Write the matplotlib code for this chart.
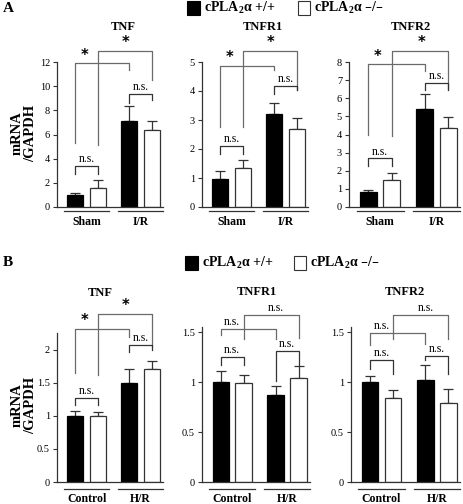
import matplotlib
matplotlib.use("Agg")
import matplotlib.pyplot as plt
import numpy as np

plt.rcParams['font.family'] = ['Liberation Serif', 'DejaVu Serif']
plt.rcParams['mathtext.default'] = 'regular'

# ---- data ----
xpos = [0, 1, 2.4, 3.4]          # Sham/Control: +/+, -/- ; I/R or H/R: +/+, -/-
groups_a = ['Sham', 'I/R']
groups_b = ['Control', 'H/R']
titles = ['TNF', 'TNFR1', 'TNFR2']

a_tnf = [1.0, 1.6, 7.1, 6.35]
a_tnf_err = [0.2, 0.65, 1.3, 0.8]
a_tnfr1 = [0.98, 1.35, 3.21, 2.68]
a_tnfr1_err = [0.26, 0.26, 0.39, 0.38]
a_tnfr2 = [0.81, 1.5, 5.4, 4.34]
a_tnfr2_err = [0.13, 0.35, 0.81, 0.6]

b_tnf = [1.0, 1.0, 1.49, 1.70]
b_tnf_err = [0.07, 0.05, 0.22, 0.13]
b_tnfr1 = [1.0, 0.99, 0.87, 1.04]
b_tnfr1_err = [0.11, 0.08, 0.09, 0.12]
b_tnfr2 = [1.0, 0.84, 1.02, 0.79]
b_tnfr2_err = [0.06, 0.08, 0.15, 0.14]

a_ylim = [12, 5, 8]
a_yticks = [range(0, 13, 2), range(0, 6), range(0, 9)]
b_ylim = [2.25, 1.55, 1.55]
b_yticks = [[0, 0.5, 1, 1.5, 2], [0, 0.5, 1, 1.5], [0, 0.5, 1, 1.5]]
b_yticklabels = [['0', '0.5', '1', '1.5', '2'], ['0', '0.5', '1', '1.5'], ['0', '0.5', '1', '1.5']]

# significance labels per bracket: (i, j, text)
a_sig = [(0, 2, '*'), (1, 3, '*'), (0, 1, 'n.s.'), (2, 3, 'n.s.')]
b_sig = [[(0, 2, '*'), (1, 3, '*'), (0, 1, 'n.s.'), (2, 3, 'n.s.')],
         [(0, 2, 'n.s.'), (1, 3, 'n.s.'), (0, 1, 'n.s.'), (2, 3, 'n.s.')],
         [(0, 2, 'n.s.'), (1, 3, 'n.s.'), (0, 1, 'n.s.'), (2, 3, 'n.s.')]]

# bracket layout in axes fraction: (top, left leg bottom, right leg bottom, label x)
a_layout = [
    [(0.99, 0.44, 0.945, 0.4), (1.076, 0.43, 0.876, 2.25), (0.283, 0.23, 0.23, 0.5), (0.78, 0.72, 0.74, 2.9)],
    [(0.975, 0.55, 0.945, 0.4), (1.076, 0.55, 0.81, 2.25), (0.42, 0.365, 0.365, 0.5), (0.834, 0.78, 0.81, 2.9)],
    [(0.985, 0.5, 0.94, 0.4), (1.076, 0.49, 0.815, 2.25), (0.335, 0.28, 0.28, 0.5), (0.857, 0.81, 0.81, 2.9)],
]
b_layout = [
    [(1.03, 0.73, 0.97, 0.4), (1.13, 0.72, 0.91, 2.25), (0.566, 0.517, 0.517, 0.5), (0.92, 0.875, 0.886, 2.9)],
    [(0.99, 0.95, 0.92, 0.5), (1.08, 0.92, 0.93, 2.4), (0.806, 0.755, 0.755, 0.5), (0.847, 0.65, 0.755, 2.9)],
    [(0.96, 0.885, 0.89, 0.5), (1.08, 0.92, 0.92, 2.4), (0.787, 0.73, 0.70, 0.5), (0.813, 0.787, 0.70, 2.9)],
]

W, H = 464, 504
fig = plt.figure(figsize=(W / 100, H / 100), dpi=100)


def px_axes(l, t, r, b):
    return fig.add_axes([l / W, 1 - b / H, (r - l) / W, (b - t) / H])


def draw_panel(ax, vals, errs, ylim, yticks, yticklabels, groups, sigs, layout, underline_px, label_px):
    colors = ['black', 'white', 'black', 'white']
    ax.bar(xpos, vals, width=0.72, color=colors, edgecolor=['black', '#333333', 'black', '#333333'],
           linewidth=0.9, zorder=2)
    ax.errorbar(xpos, vals, yerr=[np.zeros(4), errs], fmt='none', ecolor='#333333',
                elinewidth=0.9, capsize=3.5, capthick=0.9, zorder=1)
    ax.set_xlim(-0.82, 3.9)
    ax.set_ylim(0, ylim)
    ax.set_yticks(list(yticks))
    if yticklabels is not None:
        ax.set_yticklabels(yticklabels)
    ax.tick_params(axis='y', direction='out', length=3, width=0.8, labelsize=7.5, pad=2, color='#333333')
    ax.tick_params(axis='x', length=0, labelbottom=False)
    for s in ['top', 'right']:
        ax.spines[s].set_visible(False)
    for s in ['left', 'bottom']:
        ax.spines[s].set_linewidth(0.9)
        ax.spines[s].set_color('#333333')
    hpx = ax.get_position().height * H
    tr = ax.get_xaxis_transform()
    # group underlines and labels
    for k, g in enumerate(groups):
        x0 = xpos[2 * k] - 0.5
        x1 = xpos[2 * k + 1] + 0.5
        ax.plot([x0, x1], [-underline_px / hpx] * 2, transform=tr,
                color='#333333', lw=0.9, clip_on=False)
        ax.text((x0 + x1) / 2, -label_px / hpx, g, transform=tr,
                ha='center', va='baseline', fontsize=8.5, fontweight='bold')
    # brackets
    for (i, j, txt), (top, lb, rb, lx) in zip(sigs, layout):
        long = (j - i) > 1
        col = '#6a6a6a' if long else '#333333'
        ax.plot([xpos[i], xpos[i], xpos[j], xpos[j]], [lb, top, top, rb], transform=tr,
                color=col, lw=0.9, clip_on=False, zorder=3)
        if txt == '*':
            ax.text(lx, top + 8 / hpx, '*', transform=tr, ha='center', va='center',
                    fontsize=10.5, fontweight='bold', family='DejaVu Sans')
        else:
            tx = (xpos[i] + xpos[j]) / 2 if not long else lx
            ax.text(tx, top + 0.005, 'n.s.', transform=tr, ha='center', va='bottom', fontsize=8.5)


a_vals = [a_tnf, a_tnfr1, a_tnfr2]
a_errs = [a_tnf_err, a_tnfr1_err, a_tnfr2_err]
b_vals = [b_tnf, b_tnfr1, b_tnfr2]
b_errs = [b_tnf_err, b_tnfr1_err, b_tnfr2_err]

a_boxes = [(57, 62, 163, 207), (202, 62, 308, 207), (349, 62, 460, 207)]
b_boxes = [(57, 333, 163, 482), (202, 327, 310, 482), (351, 327, 460, 482)]
a_title_pos = [(123, 27), (263, 27), (411, 27)]
b_title_pos = [(100, 293), (257, 292), (405, 292)]

for k in range(3):
    ax = px_axes(*a_boxes[k])
    draw_panel(ax, a_vals[k], a_errs[k], a_ylim[k], a_yticks[k], None,
               groups_a, a_sig, a_layout[k], 4, 18)
    fig.text(a_title_pos[k][0] / W, 1 - a_title_pos[k][1] / H, titles[k], fontsize=9,
             fontweight='bold', ha='center', va='center')

for k in range(3):
    ax = px_axes(*b_boxes[k])
    draw_panel(ax, b_vals[k], b_errs[k], b_ylim[k], b_yticks[k], b_yticklabels[k],
               groups_b, b_sig[k], b_layout[k], 7, 20)
    fig.text(b_title_pos[k][0] / W, 1 - b_title_pos[k][1] / H, titles[k], fontsize=9,
             fontweight='bold', ha='center', va='center')

# panel letters and y labels
fig.text(3 / W, 1 - 9 / H, 'A', fontsize=11, fontweight='bold', va='center')
fig.text(3 / W, 1 - 263 / H, 'B', fontsize=11, fontweight='bold', va='center')
for yc in (133, 405):
    fig.text(24 / W, 1 - yc / H, 'mRNA\n/GAPDH', rotation=90, fontsize=10.5, fontweight='bold',
             ha='center', va='center', multialignment='center', linespacing=1.0)

# legends
for (bx, by, wx) in [(187, 8, 298), (185, 263, 294)]:
    fig.patches.append(plt.Rectangle((bx / W, 1 - (by + 7) / H), 13 / W, 14 / H,
                                     transform=fig.transFigure, facecolor='black',
                                     edgecolor='black', lw=0.8))
    fig.text((bx + 17) / W, 1 - by / H, 'cPLA$_\\mathregular{2}$\u03b1 +/+', fontsize=10,
             fontweight='bold', va='center')
    fig.patches.append(plt.Rectangle((wx / W, 1 - (by + 7) / H), 12 / W, 14 / H,
                                     transform=fig.transFigure, facecolor='white',
                                     edgecolor='#333333', lw=0.8))
    fig.text((wx + 16) / W, 1 - by / H, 'cPLA$_\\mathregular{2}$\u03b1 \u2013/\u2013',
             fontsize=10, fontweight='bold', va='center')

fig.savefig('out.png', dpi=100)
